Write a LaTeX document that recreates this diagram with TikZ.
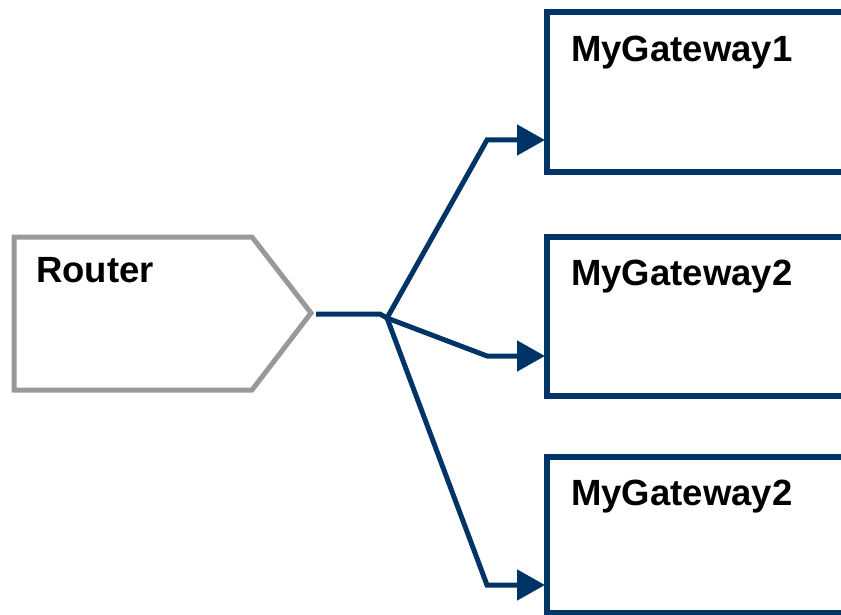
\documentclass[tikz,border=0pt]{standalone}
\usepackage{fontspec}
\setmainfont{Liberation Sans}
\usetikzlibrary{arrows.meta}
\definecolor{navy}{HTML}{003366}
\definecolor{rgray}{HTML}{999999}
\begin{document}
\begin{tikzpicture}[x=1pt,y=-1pt,
  gwbox/.style={draw=navy,line width=5.5pt},
  conn/.style={draw=navy,line width=5pt,line join=miter},
  tipped/.style={conn,-{Triangle[length=28pt,width=30pt]}},
  lbl/.style={anchor=base west,inner sep=0pt,font=\fontsize{36.5}{40}\selectfont\bfseries}]
\useasboundingbox (0,0) rectangle (841,615);
% Router
\draw[rgray,line width=5pt,line join=miter] (14,237) -- (252,237) -- (311,313) -- (252,390) -- (14,390) -- cycle;
\coordinate (rtip) at (316,314);
\node[lbl] (rlabel) at (36,282) {Router};
% Gateways
\draw[gwbox] (860,12) -- (547,12) -- (547,172) -- (860,172);
\draw[gwbox] (860,237) -- (547,237) -- (547,396) -- (860,396);
\draw[gwbox] (860,457) -- (547,457) -- (547,630);
\draw[gwbox] (547,613) -- (860,613);
\node[lbl] (g1) at (571,62) {MyGateway1};
\node[lbl] (g2) at (571,285) {MyGateway2};
\node[lbl] (g3) at (571,505) {MyGateway2};
\coordinate (in1) at (545,140);
\coordinate (in2) at (545,356);
\coordinate (in3) at (545,585);
\coordinate (bend) at (380,314);
\coordinate (jn) at (387,318);
\coordinate (k1) at (487,140);
\coordinate (k2) at (487,356);
\coordinate (k3) at (487,585);
% Connectors
\draw[conn] (rtip) -- (bend) -- (jn);
\draw[tipped] (jn) -- (k1) -- (in1);
\draw[tipped] (jn) -- (k2) -- (in2);
\draw[tipped] (jn) -- (k3) -- (in3);
\end{tikzpicture}
\end{document}
